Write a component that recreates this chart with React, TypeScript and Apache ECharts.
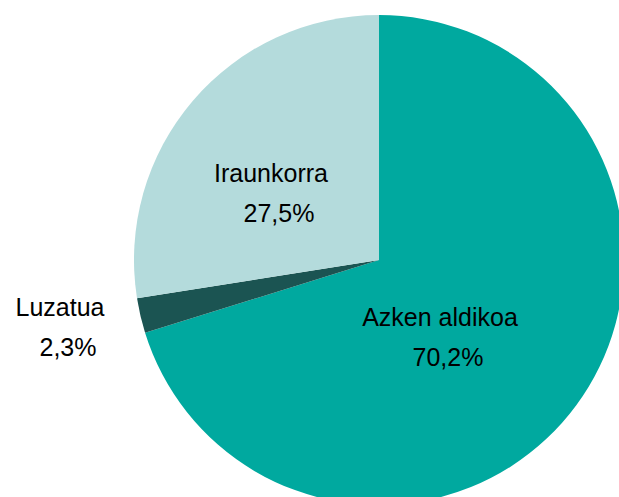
import React, { useEffect, useRef } from "react";
import * as echarts from "echarts";

const categories = ["Azken aldikoa", "Luzatua", "Iraunkorra"];
const values = [70.2, 2.3, 27.5];
const colors = ["#00A99F", "#1B5452", "#B4DBDC"];
// label block centres (layout only)
const labelPos: Record<string, [number, number]> = {
  "Azken aldikoa": [440, 337],
  Luzatua: [60, 327],
  Iraunkorra: [271, 193],
};

export default function App() {
  const ref = useRef<HTMLDivElement>(null);
  useEffect(() => {
    document.body.style.margin = "0";
    const chart = echarts.init(ref.current!, undefined, { renderer: "svg" });
    chart.setOption({
      animation: false,
      backgroundColor: "#ffffff",
      series: [
        {
          type: "pie",
          center: [379, 260],
          radius: [0, 245],
          startAngle: 90,
          clockwise: true,
          silent: true,
          data: categories.map((c, i) => ({
            name: c,
            value: values[i],
            itemStyle: { color: colors[i] },
          })),
          label: {
            show: true,
            position: "inside",
            formatter: (p: any) =>
              `{n|${p.name}}\n{p|${p.value.toFixed(1).replace(".", ",")}%}`,
            rich: {
              n: {
                fontFamily: "Liberation Sans, Arial, sans-serif",
                fontSize: 25,
                color: "#000",
                lineHeight: 40,
                align: "center",
              },
              p: {
                fontFamily: "Liberation Sans, Arial, sans-serif",
                fontSize: 25,
                color: "#000",
                lineHeight: 40,
                align: "center",
                padding: [0, 0, 0, 16],
              },
            },
          },
          labelLine: { show: false },
          labelLayout: (params: any) => {
            const name = categories[params.dataIndex];
            const pos = labelPos[name];
            return { x: pos[0], y: pos[1], align: "center", verticalAlign: "middle" };
          },
        },
      ],
    });
    return () => chart.dispose();
  }, []);
  return (
    <div
      ref={ref}
      style={{ position: "fixed", left: 0, top: 0, width: 619, height: 497 }}
    />
  );
}
